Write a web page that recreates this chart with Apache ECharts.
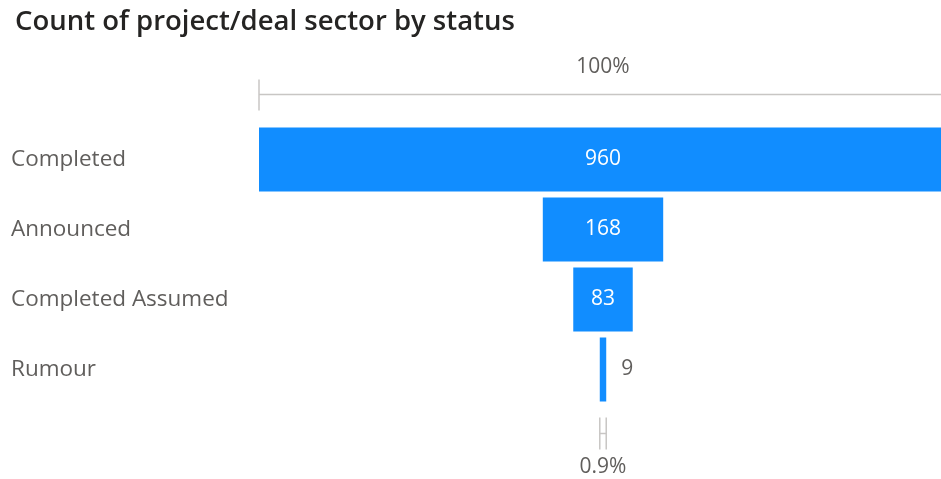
<!DOCTYPE html>
<html>
<head>
<meta charset="utf-8">
<script src="https://cdn.jsdelivr.net/npm/echarts@6/dist/echarts.min.js"></script>
<style>
  html, body { margin: 0; padding: 0; background: #ffffff; }
  #chart { width: 941px; height: 479px; }
</style>
</head>
<body>
<div id="chart"></div>
<script>
// Funnel stages, top to bottom
const statuses = ['Completed', 'Announced', 'Completed Assumed', 'Rumour'];
// Count of project/deal sector per stage
const counts = [960, 168, 83, 9];
// Share of the first stage shown above and below the funnel
const percentLabels = ['100%', '0.9%'];

const BAR_BLUE = '#118DFF';
const TEXT_GREY = '#605E5C';
const RULE_GREY = '#C8C6C4';
const FONT = '"Open Sans", "Noto Sans", sans-serif';

const maxCount = counts[0];
// Transparent spacer so every bar sits centred on the widest one
const spacer = counts.map(v => (maxCount - v) / 2);

const valueData = counts.map(v => {
  const fitsInside = v / maxCount > 0.04;
  return {
    value: v,
    label: fitsInside
      ? { position: 'inside', color: '#ffffff' }
      : { position: 'right', color: TEXT_GREY, distance: 15 }
  };
});

const chart = echarts.init(document.getElementById('chart'), null, { renderer: 'canvas' });

chart.setOption({
  animation: false,
  backgroundColor: '#ffffff',
  title: {
    text: 'Count of project/deal sector by status',
    left: 10,
    top: 3,
    textStyle: {
      fontFamily: FONT,
      fontWeight: 600,
      fontSize: 27.5,
      color: '#252423'
    }
  },
  // the widest bar runs a little past the right edge of the canvas
  grid: { left: 259, width: 688, top: 124.5, height: 280, containLabel: false, outerBoundsMode: 'none' },
  xAxis: {
    type: 'value',
    min: 0,
    max: maxCount,
    show: false
  },
  yAxis: {
    type: 'category',
    data: statuses,
    inverse: true,
    axisLine: { show: false },
    axisTick: { show: false },
    splitLine: { show: false },
    axisLabel: {
      align: 'left',
      margin: 248,
      fontFamily: FONT,
      fontSize: 22.5,
      color: TEXT_GREY
    }
  },
  series: [
    {
      type: 'bar',
      stack: 'funnel',
      data: spacer,
      barWidth: 64,
      itemStyle: { color: 'transparent' },
      silent: true
    },
    {
      type: 'bar',
      stack: 'funnel',
      data: valueData,
      barWidth: 64,
      itemStyle: { color: BAR_BLUE },
      label: {
        show: true,
        fontFamily: FONT,
        fontSize: 21
      }
    }
  ]
});

// Range rule above the funnel and the narrow marker below it, placed through the axes
function drawRules() {
  const toX = v => chart.convertToPixel({ xAxisIndex: 0 }, v);
  const toY = c => chart.convertToPixel({ yAxisIndex: 0 }, c);
  const half = 32;
  const firstTop = toY(statuses[0]) - half;
  const lastBottom = toY(statuses[statuses.length - 1]) + half;
  const last = counts[counts.length - 1];

  const x0 = toX(0);
  const x1 = toX(maxCount);
  const xc = toX(maxCount / 2);
  const lx0 = toX(spacer[spacer.length - 1]);
  const lx1 = toX(spacer[spacer.length - 1] + last);

  const ruleY = firstTop - 33;
  const markTop = lastBottom + 16;
  const markBottom = lastBottom + 48;
  const markMid = (markTop + markBottom) / 2;
  const stroke = { stroke: RULE_GREY, lineWidth: 1.5 };

  chart.setOption({
    graphic: [
      { type: 'line', shape: { x1: x0, y1: ruleY, x2: x1, y2: ruleY }, style: stroke, silent: true },
      { type: 'line', shape: { x1: x0, y1: ruleY - 15, x2: x0, y2: ruleY + 16 }, style: stroke, silent: true },
      {
        type: 'text', x: xc, y: ruleY - 27, silent: true,
        style: { text: percentLabels[0], fill: TEXT_GREY, font: '21px ' + FONT, textAlign: 'center', textVerticalAlign: 'middle' }
      },
      { type: 'line', shape: { x1: lx0, y1: markTop, x2: lx0, y2: markBottom }, style: stroke, silent: true },
      { type: 'line', shape: { x1: lx1, y1: markTop, x2: lx1, y2: markBottom }, style: stroke, silent: true },
      { type: 'line', shape: { x1: lx0, y1: markMid, x2: lx1, y2: markMid }, style: stroke, silent: true },
      {
        type: 'text', x: xc, y: markBottom + 18, silent: true,
        style: { text: percentLabels[1], fill: TEXT_GREY, font: '21px ' + FONT, textAlign: 'center', textVerticalAlign: 'middle' }
      }
    ]
  });
}
drawRules();
</script>
</body>
</html>
